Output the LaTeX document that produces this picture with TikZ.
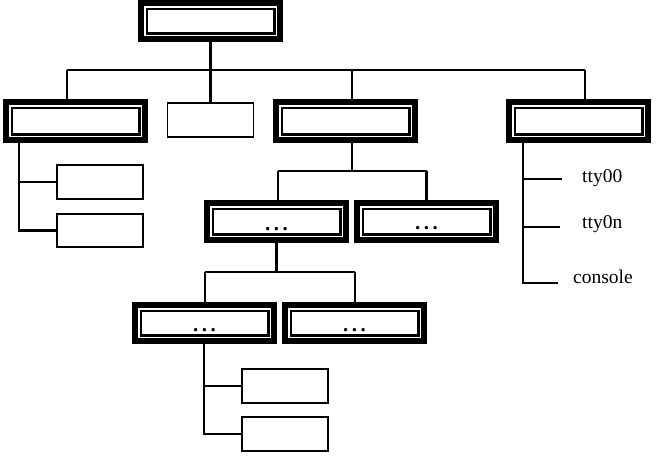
\documentclass[tikz,border=0pt]{standalone}
\usepackage{fontspec}
\setmainfont{Liberation Serif}
\newcommand{\tridots}{.\hspace{3.6pt}.\hspace{3.6pt}.}
\begin{document}
\begin{tikzpicture}[x=1pt,y=-1pt,
 thickbox/.style={fill=black, inner sep=0pt, outer sep=0pt, minimum width=145pt, minimum height=44pt,
  path picture={\fill[white] ([shift={(6pt,6pt)}]path picture bounding box.south west) rectangle ([shift={(-6pt,-6pt)}]path picture bounding box.north east);
  \draw[black,line width=2.5pt] ([shift={(8.75pt,8.75pt)}]path picture bounding box.south west) rectangle ([shift={(-8.75pt,-8.75pt)}]path picture bounding box.north east);}},
 thinbox/.style={draw, line width=1.2pt, minimum width=86pt, minimum height=34pt, inner sep=0pt, outer sep=0pt},
 conn/.style={line width=2.2pt},
 conn2/.style={line width=1.7pt},
 dots/.style={font=\bfseries\fontsize{21}{22}\selectfont, inner sep=0pt, anchor=base},
 lbl/.style={font=\fontsize{19.5}{20}\selectfont, inner sep=0pt, anchor=base west}
]
\useasboundingbox (0,0) rectangle (669,463);
% boxes
\node[thickbox, minimum height=42pt] (T) at (210.5,21) {};
\node[thickbox] (A) at (75.5,121) {};
\node[thinbox] (B) at (210.5,120) {};
\node[thickbox] (C) at (345.5,121) {};
\node[thickbox] (D) at (578.5,121) {};
\node[thinbox] (A1) at (100,182) {};
\node[thinbox, minimum height=33pt] (A2) at (100,230.5) {};
\node[thickbox, minimum height=43pt] (C1) at (276.5,221.5) {};
\node[thickbox, minimum height=43pt] (C2) at (426.5,221.5) {};
\node[thickbox, minimum height=42pt] (C1a) at (204.5,323) {};
\node[thickbox, minimum height=42pt] (C1b) at (354.5,323) {};
\node[thinbox] (C1a1) at (285,386) {};
\node[thinbox] (C1a2) at (285,434) {};
% dots
\node[dots] (C1t) at (276.5,230) {\tridots};
\node[dots] (C2t) at (426.5,229.5) {\tridots};
\node[dots] (C1at) at (204.5,331) {\tridots};
\node[dots] (C1bt) at (354.5,331) {\tridots};
% labels
\node[lbl] (L1) at (582,182) {tty00};
\node[lbl] (L2) at (582,228.5) {tty0n};
\node[lbl] (L3) at (573,283) {console};
% level 1 connectors
\coordinate (busL) at (67,70);
\coordinate (busR) at (585,70);
\coordinate (busC) at (352,70);
\draw[conn] (T.south) -- (B.north);
\draw[conn] (busL) -- (busR);
\draw[conn] (busL) -- (busL |- A.north);
\draw[conn] (busC) -- (busC |- C.north);
\draw[conn] (busR) -- (busR |- D.north);
% C children
\coordinate (c1bus) at (278,171);
\coordinate (c2bus) at (426.5,171);
\draw[conn] (busC |- C.south) -- (busC |- c1bus);
\draw[conn] (c1bus) -- (c2bus);
\draw[conn] (c1bus) -- (c1bus |- C1.north);
\draw[conn] (c2bus) -- (c2bus |- C2.north);
% C1 children
\coordinate (l3a) at (205,272);
\coordinate (l3b) at (355,272);
\draw[conn] (C1.south) -- (C1.south |- l3a);
\draw[conn] (l3a) -- (l3b);
\draw[conn] (l3a) -- (l3a |- C1a.north);
\draw[conn] (l3b) -- (l3b |- C1b.north);
% C1a children
\coordinate (cs) at (204,0);
\draw[conn] (cs |- C1a.south) -- (cs |- C1a2.west) -- (C1a2.west);
\draw[conn] (cs |- C1a1.west) -- (C1a1.west);
% A children
\coordinate (as) at (19,0);
\draw[conn] (as |- A.south) -- (as |- A2.west) -- (A2.west);
\draw[conn] (as |- A1.west) -- (A1.west);
% D children
\coordinate (ds) at (523,0);
\coordinate (e1) at (562,179);
\coordinate (e2) at (560,227);
\coordinate (e3) at (558,283);
\draw[conn2] (ds |- D.south) -- (ds |- e3) -- (e3);
\draw[conn2] (ds |- e1) -- (e1);
\draw[conn2] (ds |- e2) -- (e2);
\end{tikzpicture}
\end{document}
